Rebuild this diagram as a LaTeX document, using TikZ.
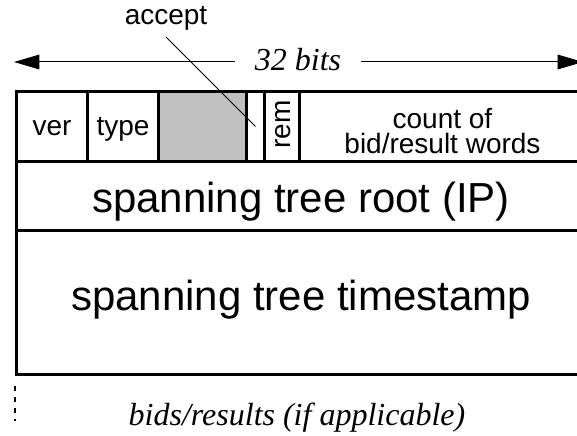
\documentclass[tikz,border=0pt]{standalone}
\usepackage{fontspec}
\setsansfont{Liberation Sans}
\newfontfamily\annofont{Liberation Serif}
\usetikzlibrary{arrows.meta}
\definecolor{fieldgray}{RGB}{192,192,192}
\tikzset{
  cell/.style={draw, line width=2.2pt, inner sep=0pt, anchor=north west},
  small/.style={font=\sffamily\fontsize{21}{19}\selectfont, inner sep=0pt},
  big/.style={font=\sffamily\fontsize{31.5}{36}\selectfont, inner sep=0pt},
  itlabel/.style={font=\annofont\itshape\fontsize{24}{28}\selectfont, inner sep=0pt},
  span/.style={line width=0.75pt, -{Triangle[length=19pt, width=11pt]}},
}
\begin{document}
\begin{tikzpicture}[x=0.75pt, y=-0.75pt]
  \useasboundingbox (0,0) rectangle (577,435);
  \clip (0,0) rectangle (577,435);

  % first word: small fields
  \node[cell, minimum width=71*0.75pt, minimum height=70*0.75pt] (ver) at (15,90) {};
  \node[cell, minimum width=71*0.75pt, minimum height=70*0.75pt] (type) at (86,90) {};
  \node[cell, fill=fieldgray, minimum width=88*0.75pt, minimum height=70*0.75pt] (unused) at (157,90) {};
  \node[cell, minimum width=18*0.75pt, minimum height=70*0.75pt] (accept) at (245,90) {};
  \node[cell, minimum width=35*0.75pt, minimum height=70*0.75pt] (rem) at (263,90) {};
  \node[cell, minimum width=286*0.75pt, minimum height=70*0.75pt] (count) at (298,90) {};

  % second and third words
  \node[cell, minimum width=569*0.75pt, minimum height=69*0.75pt] (root) at (15,160) {};
  \node[cell, minimum width=569*0.75pt, minimum height=144*0.75pt] (stamp) at (15,229) {};

  % field labels
  \node[small, anchor=base] (verlbl) at (ver.center |- 0,135) {ver};
  \node[small, anchor=base] (typelbl) at (type.center |- 0,135) {type};
  \node[small, anchor=base, rotate=90] (remlbl) at (290,124.5) {rem};
  \node[small, align=center] (countlbl) at (count.center |- 0,131) {count of\\bid/result words};
  \node[big, anchor=base] (rootlbl) at (root.center |- 0,212) {spanning tree root (IP)};
  \node[big, anchor=base] (stamplbl) at (stamp.center |- 0,310) {spanning tree timestamp};

  % accept flag callout
  \node[small, anchor=base] (acclbl) at (166,25) {accept};
  \draw[line width=0.7pt] ([yshift=-4.5pt]acclbl.south) -- (accept.center);

  % word width
  \node[itlabel, anchor=base, inner xsep=15pt] (bits) at (298,70) {32 bits};
  \coordinate (lefttip) at (14,62);
  \coordinate (righttip) at (583,62);
  \draw[span] (bits.west |- lefttip) -- (lefttip);
  \draw[span] (bits.east |- righttip) -- (righttip);

  % optional trailing words
  \coordinate (tail) at (15,421);
  \draw[line width=2.2pt, dash pattern=on 3.75pt off 4.5pt] ([yshift=-7.5pt]stamp.south west) -- (tail);
  \node[itlabel, anchor=base] (bidslbl) at (297,425) {bids/results (if applicable)};
\end{tikzpicture}
\end{document}
